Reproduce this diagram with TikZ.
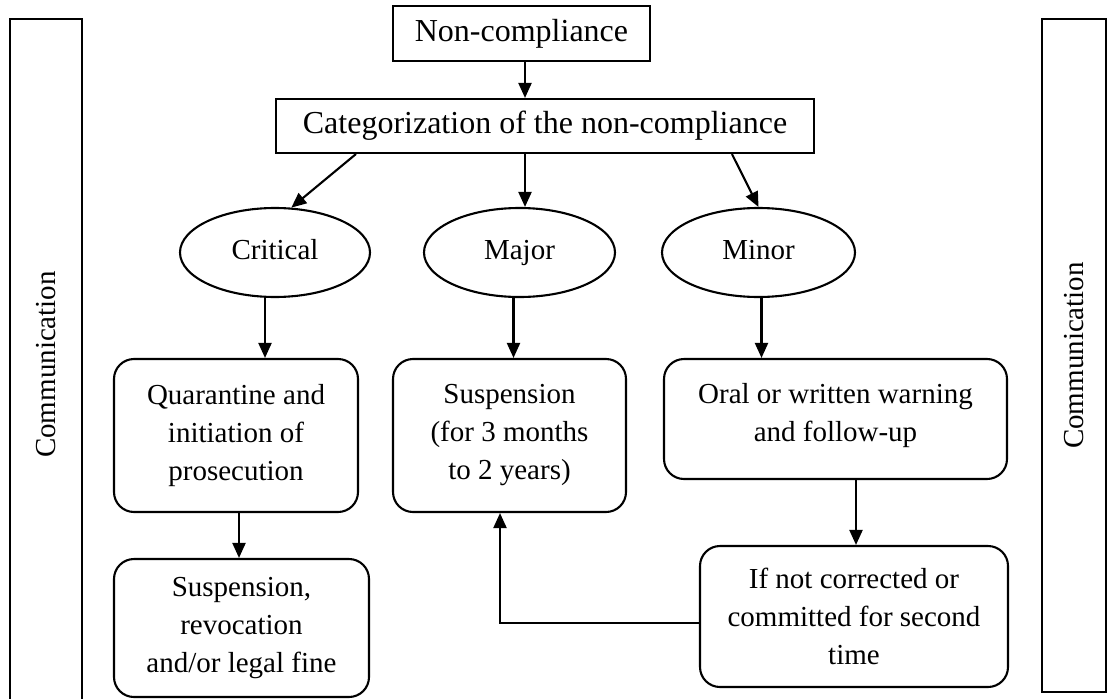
\documentclass[tikz,border=0pt]{standalone}
\usepackage{fontspec}
\setmainfont{Liberation Serif}
\usetikzlibrary{arrows.meta,shapes.geometric,calc}
\begin{document}
\begin{tikzpicture}[x=1pt,y=-1pt,
  every node/.style={font=\fontsize{29}{38}\selectfont, line width=2.1pt},
  bigtext/.style={font=\fontsize{32}{38}\selectfont},
  sqbox/.style={draw, rectangle, inner sep=0pt},
  rbox/.style={draw, rectangle, rounded corners=20pt, align=center, inner sep=0pt},
  oval/.style={draw, ellipse, inner sep=0pt, text height=19pt, text depth=6pt},
  arr/.style={line width=2.1pt, -{Triangle[length=15pt,width=13pt]}}]
\useasboundingbox (0,0) rectangle (1107,698);

\node[sqbox, bigtext, minimum width=257pt, minimum height=55pt] (noncomp) at (521.5,33.5) {Non-compliance};
\node[sqbox, bigtext, minimum width=538pt, minimum height=54pt] (cat) at (545,126) {Categorization of the non-compliance};
\node[oval, minimum width=190pt, minimum height=89pt] (crit) at (275,252.5) {Critical};
\node[oval, minimum width=191pt, minimum height=89pt] (major) at (519.5,252.5) {Major};
\node[oval, minimum width=193pt, minimum height=89pt] (minor) at (758.5,252.5) {Minor};
\node[rbox, minimum width=244pt, minimum height=153pt] (quar) at (236,435.5) {Quarantine and\\initiation of\\prosecution};
\node[rbox, minimum width=255pt, minimum height=138pt] (susp) at (241.5,628) {Suspension,\\revocation\\and/or legal fine};
\node[rbox, minimum width=233pt, minimum height=153pt] (msusp) at (509.5,435.5) {Suspension\\(for 3 months\\to 2 years)};
\node[rbox, minimum width=343pt, minimum height=120pt, text depth=14pt] (oral) at (835.5,419) {Oral or written warning\\and follow-up};
\node[rbox, minimum width=308pt, minimum height=141pt] (ifnot) at (854,616.5) {If not corrected or\\committed for second\\time};
\node[sqbox, rotate=90, minimum width=691pt, minimum height=72pt] (commL) at (46,364.5) {Communication};
\node[sqbox, rotate=90, minimum width=673pt, minimum height=64pt] (commR) at (1074,355.5) {Communication};

\draw[arr] ([xshift=3.5pt]noncomp.south) -- ([xshift=3.5pt]noncomp.south |- cat.north);
\draw[arr] ($(cat.south west)+(81,0)$) -- (crit.70);
\draw[arr] ([xshift=5.5pt]major.north |- cat.south) -- ([xshift=5.5pt]major.north);
\draw[arr] ($(cat.south west)+(457,0)$) -- (minor.north);
\draw[arr] ([xshift=-10pt]crit.south) -- ([xshift=-10pt]crit.south |- quar.north);
\draw[arr] ([xshift=-6pt]major.south) -- ([xshift=-6pt]major.south |- msusp.north);
\draw[arr] ([xshift=3pt]minor.south) -- ([xshift=3pt]minor.south |- oral.north);
\draw[arr] ([xshift=3pt]quar.south) -- ([xshift=3pt]quar.south |- susp.north);
\draw[arr] ([xshift=20.5pt]oral.south) -- ([xshift=20.5pt]oral.south |- ifnot.north);
\draw[arr] ([yshift=-6.5pt]ifnot.west) -| ([xshift=-9.5pt]msusp.south);
\end{tikzpicture}
\end{document}
